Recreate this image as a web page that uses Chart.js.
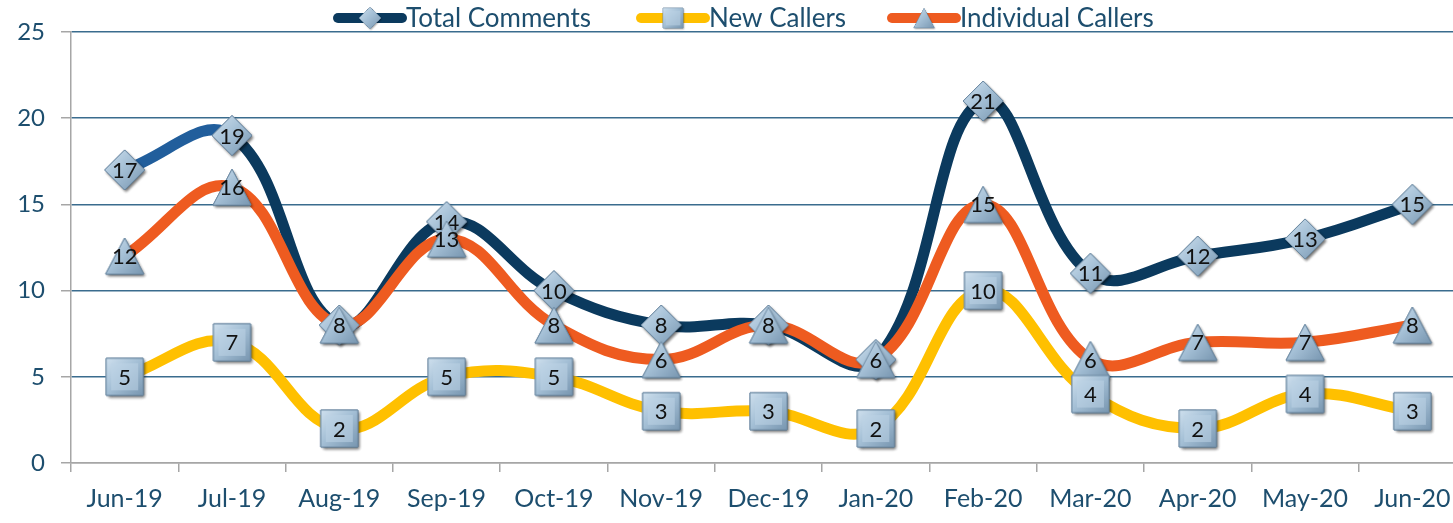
<!DOCTYPE html>
<html>
<head>
<meta charset="utf-8">
<script src="https://cdn.jsdelivr.net/npm/chart.js@4/dist/chart.umd.min.js"></script>
<style>
  html, body { margin: 0; padding: 0; background: #ffffff; overflow: hidden; }
  canvas { display: block; }
</style>
</head>
<body>
<canvas id="c" width="1487" height="523"></canvas>
<script>
const categories = ['Jun-19','Jul-19','Aug-19','Sep-19','Oct-19','Nov-19','Dec-19','Jan-20','Feb-20','Mar-20','Apr-20','May-20','Jun-20'];
const totalComments = [17,19,8,14,10,8,8,6,21,11,12,13,15];
const newCallers = [5,7,2,5,5,3,3,2,10,4,2,4,3];
const individualCallers = [12,16,8,13,8,6,8,6,15,6,7,7,8];
const seriesNames = ['Total Comments','New Callers','Individual Callers'];
const yMin = 0, yMax = 25, yStep = 5;

const FONT = 'Lato, "Open Sans", sans-serif';
const TEXT_COLOR = '#1D4E6E';

function makeMarker(shape, w, h) {
  const pad = 6;
  const c = document.createElement('canvas');
  c.width = w + 2 * pad; c.height = h + 2 * pad;
  const g = c.getContext('2d');
  const cx = c.width / 2, cy = c.height / 2;
  const path = () => {
    g.beginPath();
    if (shape === 'diamond') {
      g.moveTo(cx, cy - h / 2); g.lineTo(cx + w / 2, cy); g.lineTo(cx, cy + h / 2); g.lineTo(cx - w / 2, cy);
    } else if (shape === 'square') {
      g.rect(cx - w / 2, cy - h / 2, w, h);
    } else {
      g.moveTo(cx, cy - h / 2); g.lineTo(cx + w / 2, cy + h / 2); g.lineTo(cx - w / 2, cy + h / 2);
    }
    g.closePath();
  };
  path();
  g.save();
  g.shadowColor = 'rgba(0,0,0,0.35)'; g.shadowBlur = 3; g.shadowOffsetX = 1.5; g.shadowOffsetY = 2;
  const grad = g.createLinearGradient(cx - w / 2, cy - h / 2, cx + w / 2, cy + h / 2);
  grad.addColorStop(0, '#CFE0EE');
  grad.addColorStop(0.45, '#A6C1D7');
  grad.addColorStop(1, '#7896B0');
  g.fillStyle = grad; g.fill();
  g.restore();
  if (shape === 'square') {
    g.fillStyle = 'rgba(190,212,230,0.55)';
    g.fillRect(cx - w / 2 + 5, cy - h / 2 + 5, w - 10, h - 10);
  }
  path();
  g.strokeStyle = '#6E8BA4'; g.lineWidth = 1; g.stroke();
  return c;
}

const diamondImg = makeMarker('diamond', 40, 40);
const squareImg = makeMarker('square', 37, 37);
const triangleImg = makeMarker('triangle', 38, 36);

const seriesColors = ['#0B3A5E', '#FFC000', '#EE5B20'];
const markerImgs = [diamondImg, squareImg, triangleImg];

const labelPlugin = {
  id: 'pointsAndLabels',
  afterDatasetsDraw(chart) {
    const ctx = chart.ctx;
    const drawOrder = [0, 2, 1];
    for (const i of drawOrder) {
      const meta = chart.getDatasetMeta(i);
      const data = chart.data.datasets[i].data;
      meta.data.forEach((p, j) => {
        p.draw(ctx, chart.chartArea);
        ctx.save();
        ctx.font = '22px ' + FONT;
        ctx.fillStyle = '#111111';
        ctx.textAlign = 'center';
        ctx.textBaseline = 'middle';
        ctx.fillText(String(data[j]), p.x, p.y + 1);
        ctx.restore();
      });
    }
  }
};

const legendPlugin = {
  id: 'customLegend',
  afterDraw(chart) {
    const ctx = chart.ctx;
    ctx.save();
    ctx.font = '26px ' + FONT;
    ctx.textBaseline = 'middle';
    ctx.textAlign = 'left';
    const starts = [338, 641, 892];
    const y = 18;
    const sampleW = 64;
    seriesNames.forEach((name, i) => {
      const x = starts[i];
      ctx.strokeStyle = seriesColors[i];
      ctx.lineWidth = 10;
      ctx.lineCap = 'round';
      ctx.beginPath();
      ctx.moveTo(x, y); ctx.lineTo(x + sampleW, y);
      ctx.stroke();
      const img = markerImgs[i];
      const s = 0.55;
      ctx.drawImage(img, x + sampleW / 2 - img.width * s / 2, y - img.height * s / 2, img.width * s, img.height * s);
      ctx.fillStyle = TEXT_COLOR;
      ctx.fillText(name, x + sampleW + 4, y + 1);
    });
    ctx.restore();
  }
};

Chart.defaults.font.family = FONT;

new Chart(document.getElementById('c'), {
  type: 'line',
  data: {
    labels: categories,
    datasets: [
      {
        label: seriesNames[0], data: totalComments, order: 3,
        borderColor: seriesColors[0], borderWidth: 11, tension: 0.4,
        pointStyle: diamondImg, pointRadius: 10,
        segment: { borderColor: c => c.p0DataIndex === 0 ? '#215E9C' : undefined }
      },
      {
        label: seriesNames[1], data: newCallers, order: 1,
        borderColor: seriesColors[1], borderWidth: 11, tension: 0.4,
        pointStyle: squareImg, pointRadius: 10
      },
      {
        label: seriesNames[2], data: individualCallers, order: 2,
        borderColor: seriesColors[2], borderWidth: 11, tension: 0.4,
        pointStyle: triangleImg, pointRadius: 10
      }
    ]
  },
  options: {
    responsive: false,
    devicePixelRatio: 1,
    animation: false,
    layout: { padding: { top: 32, left: 0, right: 0, bottom: 0 } },
    plugins: { legend: { display: false }, tooltip: { enabled: false } },
    scales: {
      x: {
        offset: true,
        grid: { offset: true, drawOnChartArea: false, drawTicks: true, tickLength: 9, color: '#A6A6A6', lineWidth: 1.5 },
        border: { display: true, color: '#A6A6A6', width: 1.5 },
        ticks: { autoSkip: false, maxRotation: 0, padding: 12, color: TEXT_COLOR, font: { size: 25 } },
        afterFit(scale) { scale.height = 60; }
      },
      y: {
        min: yMin, max: yMax,
        grid: {
          color: c => (c.tick && c.tick.value === 0) ? '#A6A6A6' : '#3A6C8E',
          tickColor: '#A6A6A6',
          lineWidth: 1.5, drawTicks: true, tickLength: 10
        },
        border: { display: true, color: '#A6A6A6', width: 1.5 },
        ticks: { stepSize: yStep, padding: 16, color: TEXT_COLOR, font: { size: 24 } },
        afterFit(scale) { scale.width = 71; }
      }
    }
  },
  plugins: [labelPlugin, legendPlugin]
});
</script>
</body>
</html>
